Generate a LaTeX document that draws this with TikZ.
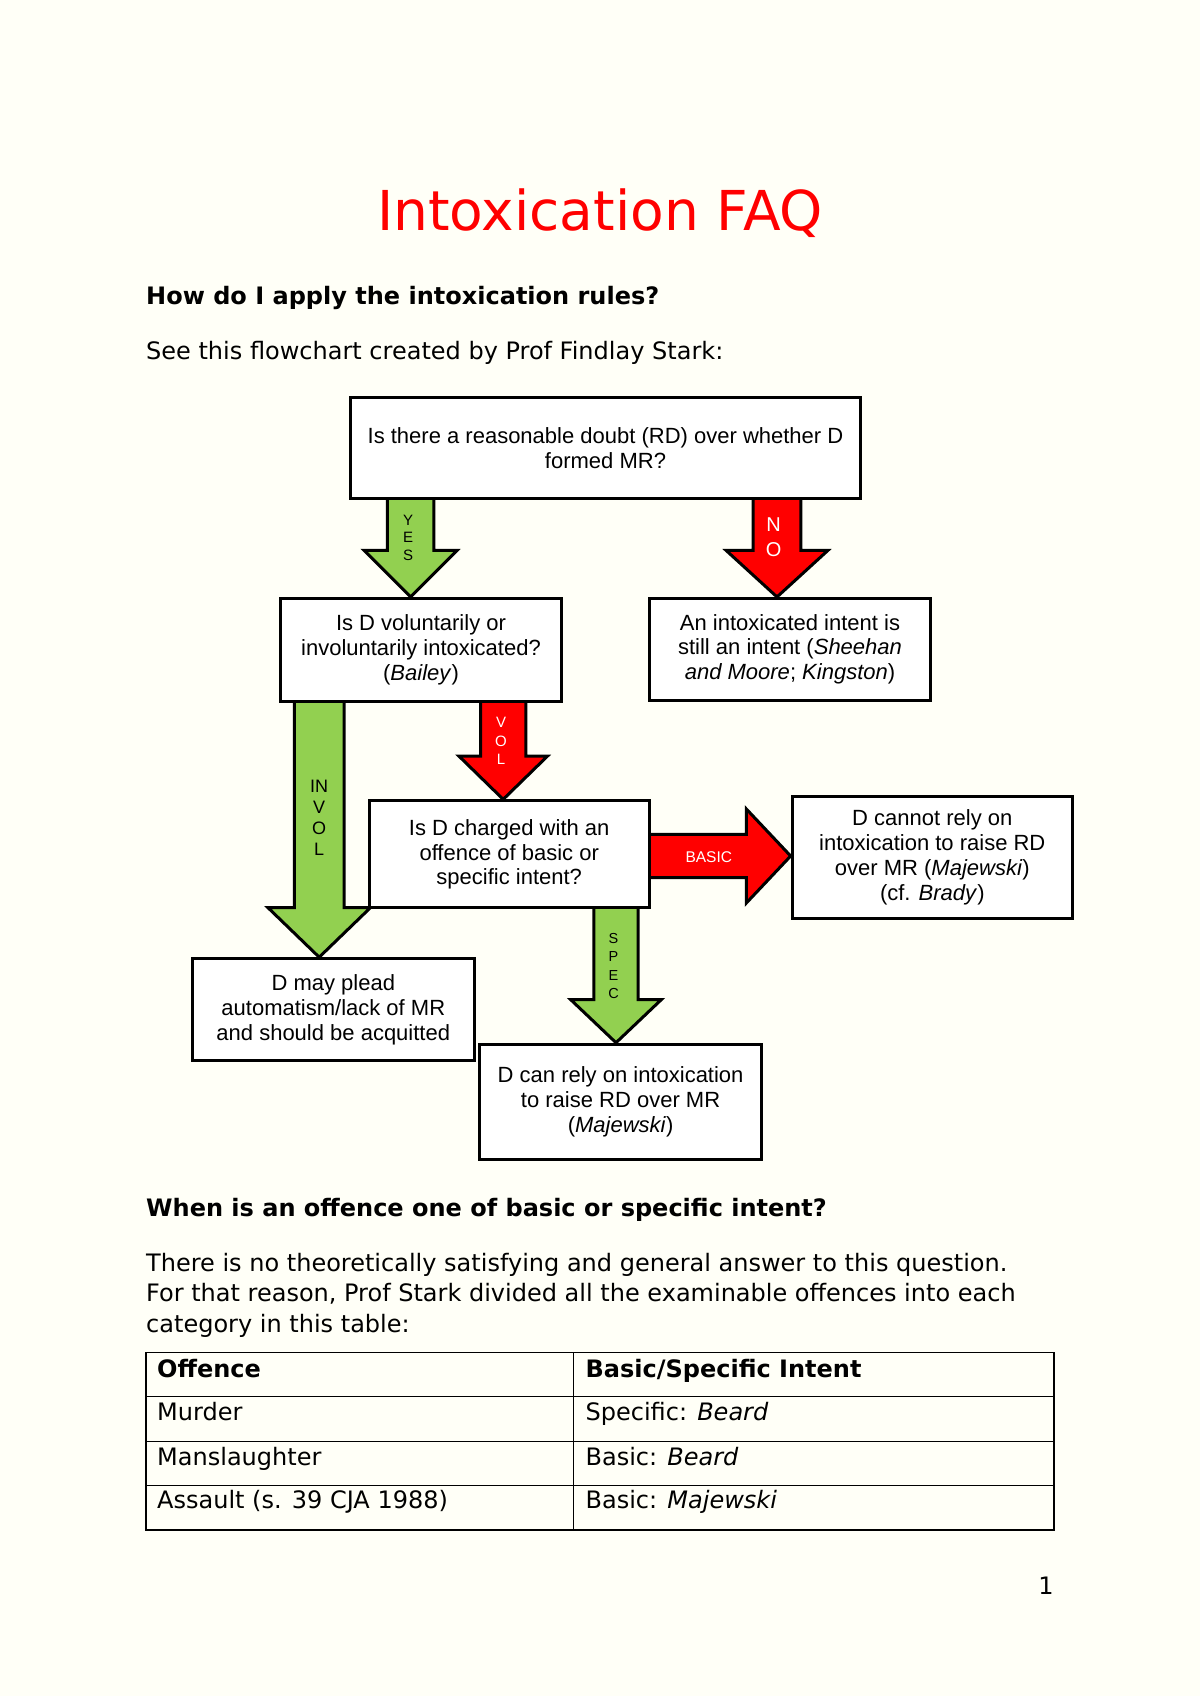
\documentclass[tikz,border=0pt]{standalone}
\usepackage{fontspec}
\setmainfont{DejaVu Sans}
\newfontfamily\lib{Liberation Sans}
\usetikzlibrary{calc}
\definecolor{paper}{RGB}{255,255,247}
\definecolor{agreen}{RGB}{146,208,80}
\definecolor{ared}{RGB}{255,0,0}
\pgfdeclarelayer{back}\pgfdeclarelayer{arr}\pgfsetlayers{back,arr,main}
\tikzset{
 box/.style={draw=black, line width=3pt, fill=white, align=center, inner sep=0pt, font=\lib\fontsize{22}{24.9}\selectfont},
 blk/.style={draw=black, line width=3pt, line join=miter},
 lab/.style={font=\lib\fontsize{14}{17.3}\selectfont, align=center, inner sep=0pt},
 doc/.style={font=\fontsize{24}{30.3}\selectfont, anchor=base west, inner sep=0pt},
 bdoc/.style={doc, font=\bfseries\fontsize{24}{30.3}\selectfont},
 tline/.style={draw=black, line width=1.3pt},
}
\newcommand\downblk[7]{%
 \draw[blk, fill=#7] let \p1=(#1.south), \p2=(#2.north) in
 ({#3pt-#4pt},{\y1+3pt}) -- ({#3pt+#4pt},{\y1+3pt}) -- ({#3pt+#4pt},{\y2+#6pt}) -- ({#3pt+#5pt},{\y2+#6pt}) -- ({#3pt},\y2) -- ({#3pt-#5pt},{\y2+#6pt}) -- ({#3pt-#4pt},{\y2+#6pt}) -- cycle;}
\newcommand\rightblk[7]{%
 \draw[blk, fill=#7] let \p1=(#1.east), \p2=(#2.west) in
 ({\x1-3pt},{-#3pt+#4pt}) -- ({\x2-#6pt},{-#3pt+#4pt}) -- ({\x2-#6pt},{-#3pt+#5pt}) -- (\x2,{-#3pt}) -- ({\x2-#6pt},{-#3pt-#5pt}) -- ({\x2-#6pt},{-#3pt-#4pt}) -- ({\x1-3pt},{-#3pt-#4pt}) -- cycle;}
\begin{document}
\begin{tikzpicture}[x=1pt,y=-1pt]
\useasboundingbox (0,0) rectangle (1200,1696);
\begin{pgfonlayer}{back}
\fill[paper] (0,0) rectangle (1200,1696);
\end{pgfonlayer}

% document text
\node[font=\fontsize{55}{60}\selectfont, text=ared, anchor=base, inner sep=0pt] (title) at (600,230.5) {Intoxication FAQ};
\node[bdoc] (q1) at (146,304) {How do I apply the intoxication rules?};
\node[doc] (see) at (146,359) {See this flowchart created by Prof Findlay Stark:};
\node[bdoc] (q2) at (146,1216) {When is an offence one of basic or specific intent?};
\node[doc] (p1) at (146,1271.5) {There is no theoretically satisfying and general answer to this question.};
\node[doc] (p2) at (146,1301.8) {For that reason, Prof Stark divided all the examinable offences into each};
\node[doc] (p3) at (146,1332) {category in this table:};

% boxes
\node[box, minimum width=509.7pt, minimum height=101.7pt] (b1) at (605.5,448) {Is there a reasonable doubt (RD) over whether D\\formed MR?};
\node[box, minimum width=281.3pt, minimum height=102.8pt] (b2) at (421,649.8) {Is D voluntarily or\\involuntarily intoxicated?\\(\textit{Bailey})};
\node[box, minimum width=281.3pt, minimum height=101.7pt] (b3) at (790,649.3) {An intoxicated intent is\\still an intent (\textit{Sheehan}\\\textit{and Moore}; \textit{Kingston})};
\node[box, minimum width=280.3pt, minimum height=107.1pt] (b4) at (509.2,854.4) {Is D charged with an\\offence of basic or\\specific intent?};
\node[box, minimum width=280.3pt, minimum height=122.3pt] (b5) at (932.3,857.6) {D cannot rely on\\intoxication to raise RD\\over MR (\textit{Majewski})\\(cf. \textit{Brady})};
\node[box, minimum width=281.4pt, minimum height=101.8pt] (b6) at (333.3,1009.6) {D may plead\\automatism/lack of MR\\and should be acquitted};
\node[box, minimum width=282.4pt, minimum height=114.8pt] (b7) at (620.6,1101.6) {D can rely on intoxication\\to raise RD over MR\\(\textit{Majewski})};

% block arrows
\begin{pgfonlayer}{arr}
\downblk{b1}{b2}{410.6}{23.25}{46.5}{46.5}{agreen}
\downblk{b1}{b3}{777}{23.85}{50.85}{46.5}{ared}
\downblk{b2}{b6}{319.2}{24.9}{51.4}{49.7}{agreen}
\downblk{b2}{b4}{503.2}{22.7}{44.35}{43.3}{ared}
\downblk{b4}{b7}{616}{22.2}{45.45}{43.2}{agreen}
\rightblk{b4}{b5}{856}{21.65}{47.1}{44.4}{ared}
\end{pgfonlayer}

% arrow labels
\node[lab, font=\lib\fontsize{15}{17.3}\selectfont] (lyes) at (408,537.8) {Y\\E\\S};
\node[lab, font=\lib\fontsize{20}{25}\selectfont, text=white] (lno) at (773.7,537.2) {N\\O};
\node[lab, font=\lib\fontsize{15}{18.4}\selectfont, text=white] (lvol) at (501,741.2) {V\\O\\L};
\node[lab, font=\lib\fontsize{18}{21}\selectfont] (linvol) at (319.2,818) {IN\\V\\O\\L};
\node[lab, font=\lib\fontsize{14.5}{18.4}\selectfont] (lspec) at (613.5,965.8) {S\\P\\E\\C};
\node[lab, font=\lib\fontsize{15.5}{18}\selectfont, text=white] (lbasic) at (708.8,857) {BASIC};

% table
\draw[tline] (146,1352.6) rectangle (1054,1530.1);
\draw[tline] (146,1396.8) -- (1054,1396.8);
\draw[tline] (146,1441.2) -- (1054,1441.2);
\draw[tline] (146,1485.6) -- (1054,1485.6);
\draw[tline] (573.5,1352.6) -- (573.5,1530.1);
\node[bdoc] (th1) at (157,1377.5) {Offence};
\node[bdoc] (th2) at (585.4,1377.5) {Basic/Specific Intent};
\node[doc] (r1a) at (157,1420.8) {Murder};
\node[doc] (r1b) at (585.4,1420.8) {Specific: \textit{Beard}};
\node[doc] (r2a) at (157,1465) {Manslaughter};
\node[doc] (r2b) at (585.4,1465) {Basic: \textit{Beard}};
\node[doc] (r3a) at (157,1508.5) {Assault (s. 39 CJA 1988)};
\node[doc] (r3b) at (585.4,1508.5) {Basic: \textit{Majewski}};

\node[font=\fontsize{24}{30.3}\selectfont, anchor=base, inner sep=0pt] (pg) at (1046,1594) {1};
\end{tikzpicture}
\end{document}
